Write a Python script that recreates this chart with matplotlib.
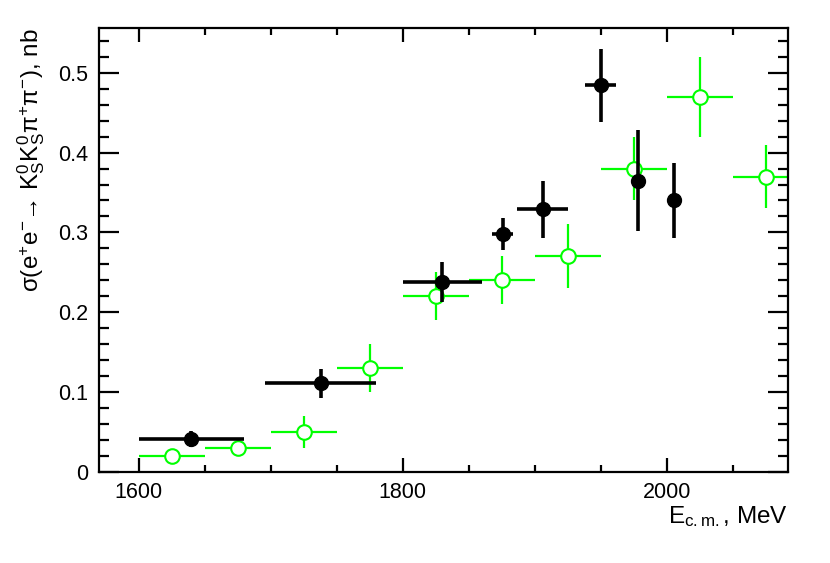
import numpy as np
import matplotlib
matplotlib.use("Agg")
from matplotlib import pyplot as plt
from matplotlib.ticker import MultipleLocator

plt.rcParams['font.family'] = ['Liberation Sans', 'DejaVu Sans']
plt.rcParams['mathtext.fontset'] = 'custom'
plt.rcParams['mathtext.rm'] = 'Liberation Sans'
plt.rcParams['mathtext.it'] = 'Liberation Sans'
plt.rcParams['mathtext.default'] = 'regular'

# black points: filled circles
black_E = [1640, 1738, 1830, 1876, 1906, 1950, 1978, 2006]
black_dE_lo = [40, 42, 30, 8, 19, 12, 0, 0]
black_dE_hi = [40, 42, 30, 8, 19, 12, 0, 0]
black_sig = [0.041, 0.111, 0.238, 0.298, 0.329, 0.484, 0.365, 0.340]
black_err = [0.010, 0.018, 0.025, 0.020, 0.036, 0.046, 0.063, 0.047]

# green points: open circles
green_E = [1625, 1675, 1725, 1775, 1825, 1875, 1925, 1975, 2025, 2075]
green_dE = [25, 25, 25, 25, 25, 25, 25, 25, 25, 25]
green_sig = [0.020, 0.030, 0.050, 0.130, 0.220, 0.240, 0.270, 0.380, 0.470, 0.370]
green_err = [0.004, 0.004, 0.020, 0.030, 0.030, 0.030, 0.040, 0.040, 0.050, 0.040]

fig = plt.figure(figsize=(8.3, 5.63), dpi=100)
ax = fig.add_axes([0.1193, 0.1616, 0.9494 - 0.1193, 0.9503 - 0.1616])

ax.errorbar(green_E, green_sig, xerr=green_dE, yerr=green_err, fmt='o',
            color='#00ff00', mfc='white', mec='#00ff00', mew=1.5,
            ms=10.5, elinewidth=1.6, capsize=0, zorder=2)
ax.errorbar(black_E, black_sig, xerr=[black_dE_lo, black_dE_hi], yerr=black_err,
            fmt='o', color='black', ms=10, elinewidth=2.6, capsize=0, zorder=3)

ax.set_xlim(1570, 2092)
ax.set_ylim(0, 0.556)
ax.xaxis.set_major_locator(MultipleLocator(200))
ax.xaxis.set_minor_locator(MultipleLocator(50))
ax.yaxis.set_major_locator(MultipleLocator(0.1))
ax.yaxis.set_minor_locator(MultipleLocator(0.02))
ax.yaxis.set_major_formatter(matplotlib.ticker.FuncFormatter(lambda v, p: '0' if v == 0 else f'{v:.1f}'))

for s in ax.spines.values():
    s.set_linewidth(1.6)
ax.tick_params(axis='x', which='major', direction='in', top=True, length=10, width=1.6, labelsize=15.5, pad=7)
ax.tick_params(axis='x', which='minor', direction='in', top=True, length=5, width=1.6)
ax.tick_params(axis='y', which='major', direction='in', right=True, length=14.5, width=1.6, labelsize=15.5, pad=8)
ax.tick_params(axis='y', which='minor', direction='in', right=True, length=7.5, width=1.6)

ax.set_xlabel(r'E$_{c.m.}$, MeV', fontsize=17.5, loc='right', labelpad=1)
ax.set_ylabel(r'σ(e$^{+}$e$^{-}$→ K$^{0}_{S}$K$^{0}_{S}$π$^{+}$π$^{-}$), nb', fontsize=17.5, loc='top', labelpad=8)

fig.savefig('out.png', dpi=100)
